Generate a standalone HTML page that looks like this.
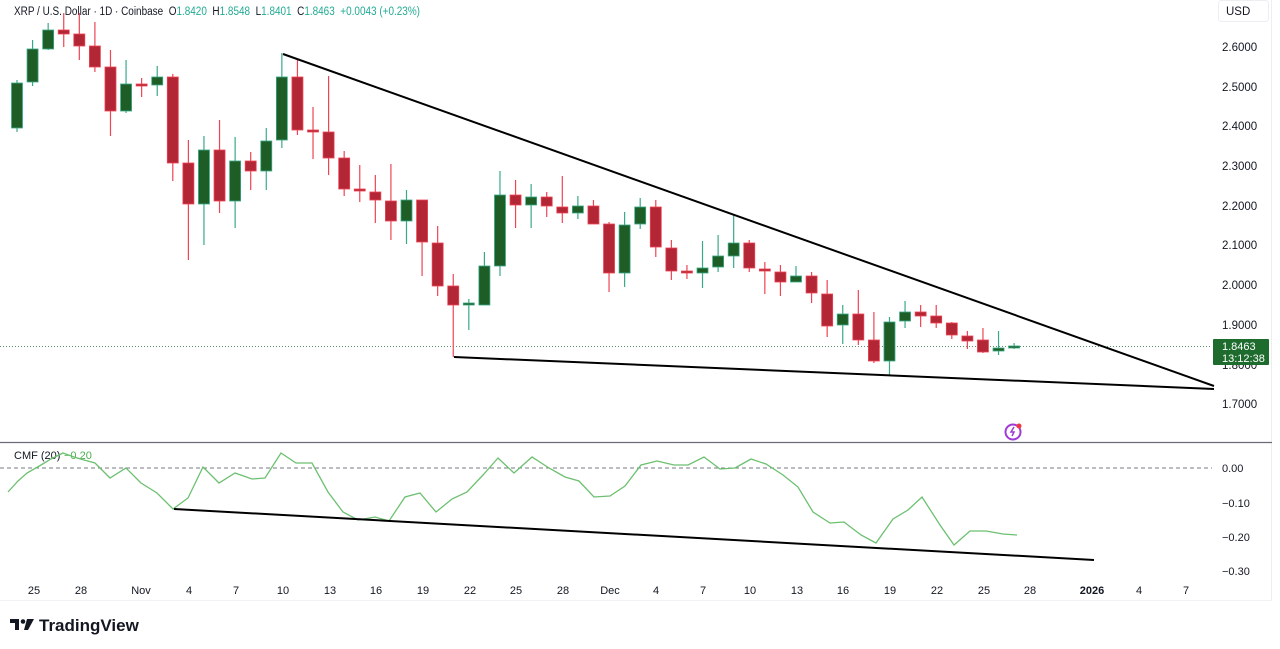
<!DOCTYPE html>
<html><head><meta charset="utf-8"><style>
html,body{margin:0;padding:0;background:#fff;width:1280px;height:649px;overflow:hidden}
svg{display:block;font-family:"Liberation Sans",sans-serif}
</style></head><body>
<svg id="s" width="1280" height="649" viewBox="0 0 1280 649" xmlns="http://www.w3.org/2000/svg">
<rect width="1280" height="649" fill="#fff"/>
<line x1="1271.5" y1="0" x2="1271.5" y2="600" stroke="#eceef2"/>
<line x1="0" y1="600.5" x2="1272" y2="600.5" stroke="#f0f2f5"/>
<line x1="0" y1="442.5" x2="1272" y2="442.5" stroke="#6a6d78" stroke-width="1.2"/>
<!-- header -->
<text x="14" y="15" font-size="11.5" fill="#131722" textLength="406" lengthAdjust="spacingAndGlyphs">XRP / U.S. Dollar · 1D · Coinbase&#160;&#160;O<tspan fill="#22ab94">1.8420</tspan>&#160;&#160;H<tspan fill="#22ab94">1.8548</tspan>&#160;&#160;L<tspan fill="#22ab94">1.8401</tspan>&#160;&#160;C<tspan fill="#22ab94">1.8463</tspan>&#160;&#160;<tspan fill="#22ab94">+0.0043 (+0.23%)</tspan></text>
<rect x="1218.5" y="0.5" width="50" height="21" rx="3" fill="#fff" stroke="#eceef2"/>
<text x="1226" y="15" font-size="11.5" fill="#131722">USD</text>
<!-- price axis -->
<g font-size="11.5" fill="#131722">
<text x="1222" y="51">2.6000</text><text x="1222" y="91">2.5000</text><text x="1222" y="130">2.4000</text>
<text x="1222" y="170">2.3000</text><text x="1222" y="210">2.2000</text><text x="1222" y="249">2.1000</text>
<text x="1222" y="289">2.0000</text><text x="1222" y="329">1.9000</text><text x="1222" y="369">1.8000</text>
<text x="1222" y="408">1.7000</text>
</g>
<line x1="0" y1="346.5" x2="1212" y2="346.5" stroke="#5b8f6a" stroke-width="1" stroke-dasharray="1,2"/>
<g id="c"></g>
<!-- trend lines -->
<line x1="283" y1="54" x2="1214" y2="386" stroke="#000" stroke-width="2"/>
<line x1="454" y1="357" x2="1214" y2="389" stroke="#000" stroke-width="2"/>
<rect x="1213" y="339" width="56" height="26" rx="1" fill="#1e6b2e"/>
<text x="1222" y="350" font-size="11" fill="#fff">1.8463</text>
<text x="1222" y="362" font-size="11" fill="#fff">13:12:38</text>
<!-- icon -->
<circle cx="1013" cy="432" r="7.5" fill="none" stroke="#a03ad6" stroke-width="2"/>
<path d="M1014 427 l-3 5 h3 l-2 4" fill="none" stroke="#a03ad6" stroke-width="1.5"/>
<circle cx="1019" cy="426" r="2.5" fill="#f23645"/>
<!-- CMF -->
<line x1="0" y1="468" x2="1212" y2="468" stroke="#787b86" stroke-dasharray="4,3"/>
<text x="14" y="459" font-size="11" fill="#131722">CMF (20)</text>
<text x="64" y="459" font-size="11" fill="#4caf50">−0.20</text>
<g font-size="11" fill="#131722">
<text x="1222" y="472">0.00</text><text x="1222" y="507">−0.10</text><text x="1222" y="541">−0.20</text><text x="1222" y="575">−0.30</text>
</g>
<polyline fill="none" stroke="#6cc070" stroke-width="1.3" points="8,492 18,481 27,473 41,465 51,459 63,453 74,457 84,460 95,463 110,478 126,468 141,483 157,493 173,509 188,498 203,467 219,483 235,473 252,479 265,478 281,453 296,463 312,463 328,492 343,512 358,520 375,517 389,521 405,497 420,493 436,512 452,499 467,492 483,475 498,458 514,473 532,457 549,468 565,477 579,481 594,497 610,496 625,486 641,465 657,461 674,465 688,465 704,457 720,469 735,468 751,459 766,464 783,475 798,487 813,512 830,523 844,522 861,535 876,543 893,519 908,510 922,497 940,525 954,545 970,531 986,531 1003,534 1017,535"/>
<line x1="174" y1="509" x2="1094" y2="560" stroke="#000" stroke-width="2"/>
<!-- time axis -->
<g font-size="11" fill="#131722" text-anchor="middle">
<text x="34" y="594">25</text><text x="81" y="594">28</text><text x="141" y="594">Nov</text><text x="189" y="594">4</text>
<text x="236" y="594">7</text><text x="283" y="594">10</text><text x="330" y="594">13</text><text x="376" y="594">16</text>
<text x="423" y="594">19</text><text x="470" y="594">22</text><text x="516" y="594">25</text><text x="563" y="594">28</text>
<text x="610" y="594">Dec</text><text x="656" y="594">4</text><text x="703" y="594">7</text><text x="750" y="594">10</text>
<text x="797" y="594">13</text><text x="843" y="594">16</text><text x="890" y="594">19</text><text x="937" y="594">22</text>
<text x="984" y="594">25</text><text x="1030" y="594">28</text><text x="1092" y="594" font-weight="bold">2026</text>
<text x="1139" y="594">4</text><text x="1186" y="594">7</text>
</g>
<!-- logo -->
<path d="M10 619 h9 v11 h-4 v-7 h-5z" fill="#131722"/>
<circle cx="23" cy="621.5" r="2.3" fill="#131722"/>
<path d="M27 619 h7 l-6 11 h-4z" fill="#131722"/>
<text x="39" y="631" font-size="17" font-weight="bold" fill="#131722">TradingView</text>
</svg>
<script>
var d=[
[83,128,80,132,1],[82,49,40,86,1],[49,30,23,50,1],[30,34,13,47,0],[34,46,13,60,0],[46,67,22,72,0],[67,111,50,136,0],[111,84,60,113,1],[84,85,78,97,0],[85,77,66,96,1],
[77,163,74,181,0],[163,204,140,260,0],[204,150,136,245,1],[150,201,120,213,0],[201,161,137,228,1],[161,171,152,190,0],[171,141,128,190,1],[140,77,53,148,1],[77,130,60,135,0],[130,131,107,159,0],
[132,158,76,175,0],[158,189,151,196,0],[189,190,165,202,0],[192,200,175,223,0],[201,221,164,240,0],[221,200,190,244,1],[200,242,200,276,0],[243,286,226,296,0],[286,305,274,357,0],[304,303,299,330,1],
[305,266,252,305,1],[266,195,171,276,1],[195,205,180,228,0],[205,197,184,228,1],[197,206,192,217,0],[207,213,176,223,0],[213,206,196,219,1],[206,224,200,224,0],[224,273,222,292,0],[273,225,212,287,1],
[224,207,198,229,1],[207,247,200,257,0],[248,271,240,280,0],[271,272,265,279,0],[273,268,241,288,1],[267,256,235,272,1],[256,243,215,268,1],[243,268,240,272,0],[269,271,262,294,0],[272,282,265,296,0],
[282,276,266,282,1],[276,293,272,303,0],[294,326,280,337,0],[325,314,305,344,1],[314,340,290,345,0],[340,361,312,363,0],[361,322,317,375,1],[321,312,301,328,1],[312,316,305,327,0],[316,323,305,328,0],
[323,335,322,339,0],[336,341,331,349,0],[340,352,328,353,0],[351,348,331,355,1],[347,346,343,349,1]];
var h='';
d.forEach(function(c,i){var x=17+i*15.58,t=Math.min(c[0],c[1]),b=Math.max(c[0],c[1]);if(b-t<2)b=t+2;
var f=c[4]?'#1e5e26':'#b32636',s=c[4]?'#3aa98a':'#ee4454';
h+='<line x1="'+x+'" y1="'+c[2]+'" x2="'+x+'" y2="'+c[3]+'" stroke="'+s+'" stroke-width="1.2"/>';
h+='<rect x="'+(x-5.5)+'" y="'+t+'" width="11" height="'+(b-t)+'" fill="'+f+'" stroke="'+s+'" stroke-width="0.8"/>';});
document.getElementById('c').innerHTML=h;
</script>
</body></html>
